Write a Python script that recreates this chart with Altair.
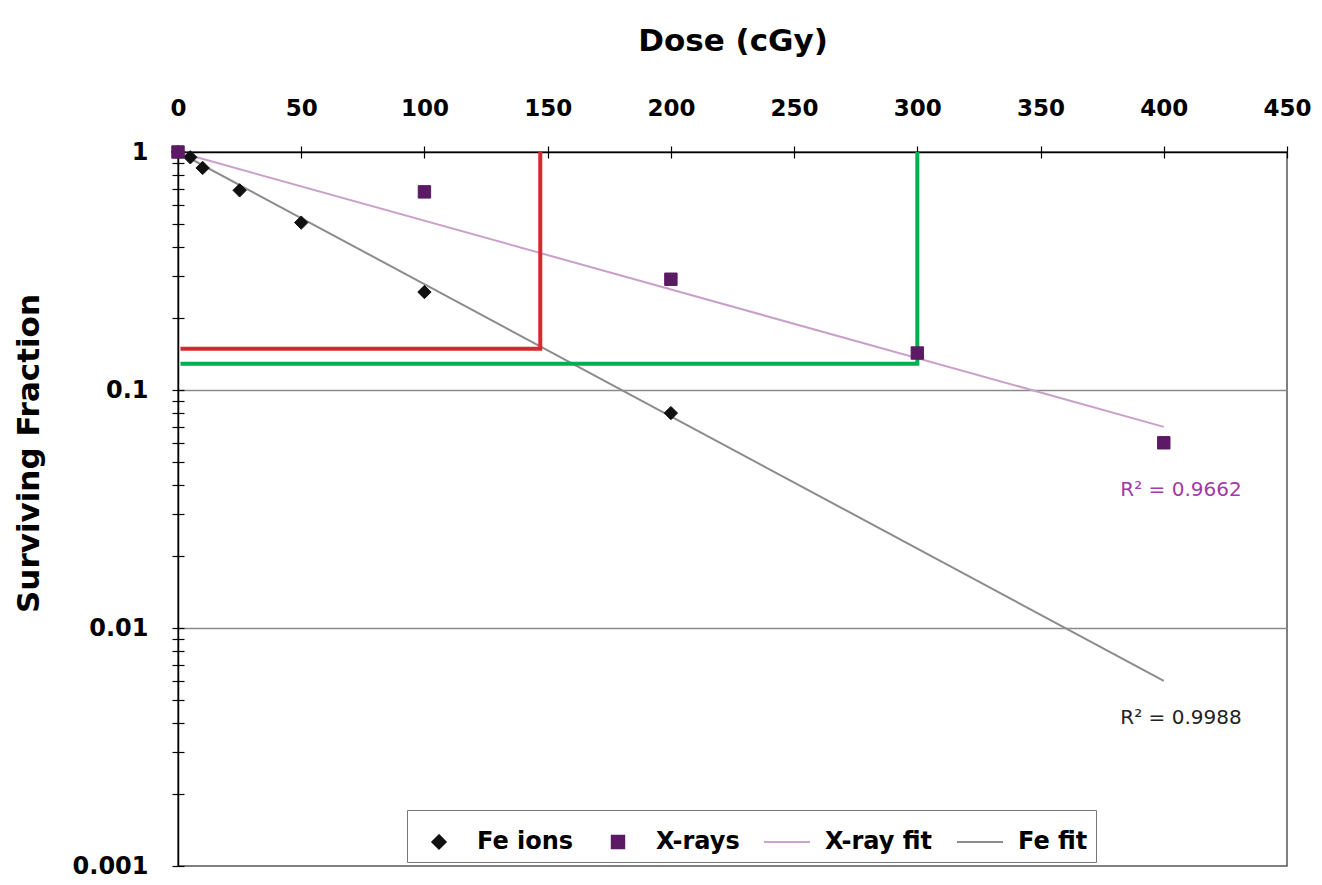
import altair as alt
import pandas as pd

# ---------------- data ----------------
series = ["Fe ions", "X-rays", "X-ray fit", "Fe fit"]

fe_dose = [0, 5, 10, 25, 50, 100, 200]
fe_sf = [1.0, 0.95, 0.857, 0.69, 0.505, 0.258, 0.080]

xr_dose = [0, 100, 200, 300, 400]
xr_sf = [1.0, 0.68, 0.292, 0.143, 0.060]

xfit_dose = [0, 400]
xfit_sf = [1.0, 0.07]

fefit_dose = [0, 400]
fefit_sf = [1.0, 0.006]

red_dose = [1, 147, 147]
red_sf = [0.149, 0.149, 1.0]

green_dose = [1, 300, 300]
green_sf = [0.129, 0.129, 1.0]

r2_text = ["R\u00b2 = 0.9662", "R\u00b2 = 0.9988"]
r2_dose = [407, 407]
r2_sf = [0.038, 0.0042]

x_ticks = [0, 50, 100, 150, 200, 250, 300, 350, 400, 450]
y_major = [1, 0.1, 0.01, 0.001]

# ---------------- styles ----------------
FONT = "DejaVu Sans"
series_colors = ["#111111", "#5b1a63", "#cfa3cf", "#8c8c8c"]
# symbol paths in the unit square; symbol size SYM gives a 46px legend key
series_shapes = [
    "M0,-0.29L0.29,0L0,0.29L-0.29,0Z",
    "M-0.27,-0.27H0.27V0.27H-0.27Z",
    "M-1,0H1",
    "M-1,0H1",
]
SYM = 2116

y_ticks = sorted(set(y_major + [m * 10.0 ** e for e in (-3, -2, -1) for m in range(2, 10)]))

W, H = 1109, 714

xs = alt.Scale(domain=[0, 450], nice=False, zero=False)
ys = alt.Scale(type="log", domain=[0.001, 1], nice=False)

x_axis = alt.Axis(
    orient="top", values=x_ticks, grid=False, title="Dose (cGy)",
    titleFont=FONT, titleFontSize=31, titleFontWeight="bold", titleColor="black",
    titleY=-102, titleBaseline="alphabetic",
    labelFont=FONT, labelFontSize=23, labelFontWeight="bold", labelColor="black",
    labelPadding=26, tickSize=6, tickColor="black", tickWidth=1.2,
    domainColor="black", domainWidth=1.5, labelFlush=False, labelOverlap=False,
)

major_test = " || ".join(f"datum.value == {v}" for v in y_major)
y_axis = alt.Axis(
    orient="left", values=y_ticks, format="~g",
    labelExpr=f"({major_test}) ? datum.label : ''",
    title="Surviving Fraction",
    titleFont=FONT, titleFontSize=31, titleFontWeight="bold", titleColor="black",
    titleX=-140, titleY=301, titleBaseline="alphabetic", titleAngle=-90,
    labelFont=FONT, labelFontSize=24, labelFontWeight="bold", labelColor="black",
    labelPadding=24, tickSize=6, tickColor="black", tickWidth=1.2,
    domainColor="black", domainWidth=1.5, labelOverlap=False, labelFlush=False,
    grid=True, gridColor="#8a8a8a", gridWidth=1.5,
    gridOpacity={"condition": {"test": "datum.value == 0.1 || datum.value == 0.01", "value": 1}, "value": 0},
)

x_in_axis = alt.Axis(orient="top", values=x_ticks, offset=-6, tickSize=6, tickColor="black",
                     tickWidth=1.2, domain=False, labels=False, grid=False, title=None)
y_in_axis = alt.Axis(orient="left", values=y_ticks, offset=-6, tickSize=6, tickColor="black",
                     tickWidth=1.2, domain=False, labels=False, grid=False, title=None)

legend = alt.Legend(
    title=None, orient="none", legendX=229, legendY=658, direction="horizontal",
    fillColor="white", strokeColor="#777777", padding=8,
    labelFont=FONT, labelFontSize=24, labelFontWeight="bold", labelColor="black",
    symbolStrokeWidth=2, symbolSize=SYM, columnPadding=20, labelOffset=14, symbolOpacity=1,
)

pts = pd.DataFrame({
    "dose": fe_dose + xr_dose,
    "sf": fe_sf + xr_sf,
    "series": [series[0]] * len(fe_dose) + [series[1]] * len(xr_dose),
})

points = alt.Chart(pts).mark_point(filled=True, opacity=1, strokeWidth=1, size=SYM).encode(
    x=alt.X("dose:Q", scale=xs, axis=x_axis),
    y=alt.Y("sf:Q", scale=ys, axis=y_axis),
    color=alt.Color("series:N", scale=alt.Scale(domain=series, range=series_colors), legend=legend),
    stroke=alt.Stroke("series:N", scale=alt.Scale(domain=series, range=series_colors), legend=legend),
    shape=alt.Shape("series:N", scale=alt.Scale(domain=series, range=series_shapes), legend=legend),
)


def path_layer(dose, sf, color, width, axes=False):
    df = pd.DataFrame({"dose": dose, "sf": sf, "i": list(range(len(dose)))})
    return alt.Chart(df).mark_line(color=color, strokeWidth=width).encode(
        x=alt.X("dose:Q", scale=xs, axis=x_in_axis if axes else None),
        y=alt.Y("sf:Q", scale=ys, axis=y_in_axis if axes else None),
        order="i:Q",
    )


xfit = path_layer(xfit_dose, xfit_sf, "#c9a0c9", 2)
fefit = path_layer(fefit_dose, fefit_sf, "#8c8c8c", 2)
red = path_layer(red_dose, red_sf, "#d7282f", 4, axes=True)
green = path_layer(green_dose, green_sf, "#00b050", 4)


def text_layer(i, color):
    df = pd.DataFrame({"dose": [r2_dose[i]], "sf": [r2_sf[i]], "t": [r2_text[i]]})
    return alt.Chart(df).mark_text(font=FONT, fontSize=20, color=color).encode(
        x=alt.X("dose:Q", scale=xs, axis=None),
        y=alt.Y("sf:Q", scale=ys, axis=None),
        text="t:N",
    )


chart = alt.layer(
    xfit, fefit, red, green, points, text_layer(0, "#a23aa8"), text_layer(1, "#222222")
).resolve_axis(x="independent", y="independent").properties(
    width=W, height=H,
    autosize=alt.AutoSizeParams(type="none"),
    padding={"left": 170, "top": 144, "right": 27, "bottom": 12},
    background="white",
).configure_view(stroke="#555555", strokeWidth=1.5)

chart.save("out.html", embed_options={"renderer": "svg", "actions": False})
